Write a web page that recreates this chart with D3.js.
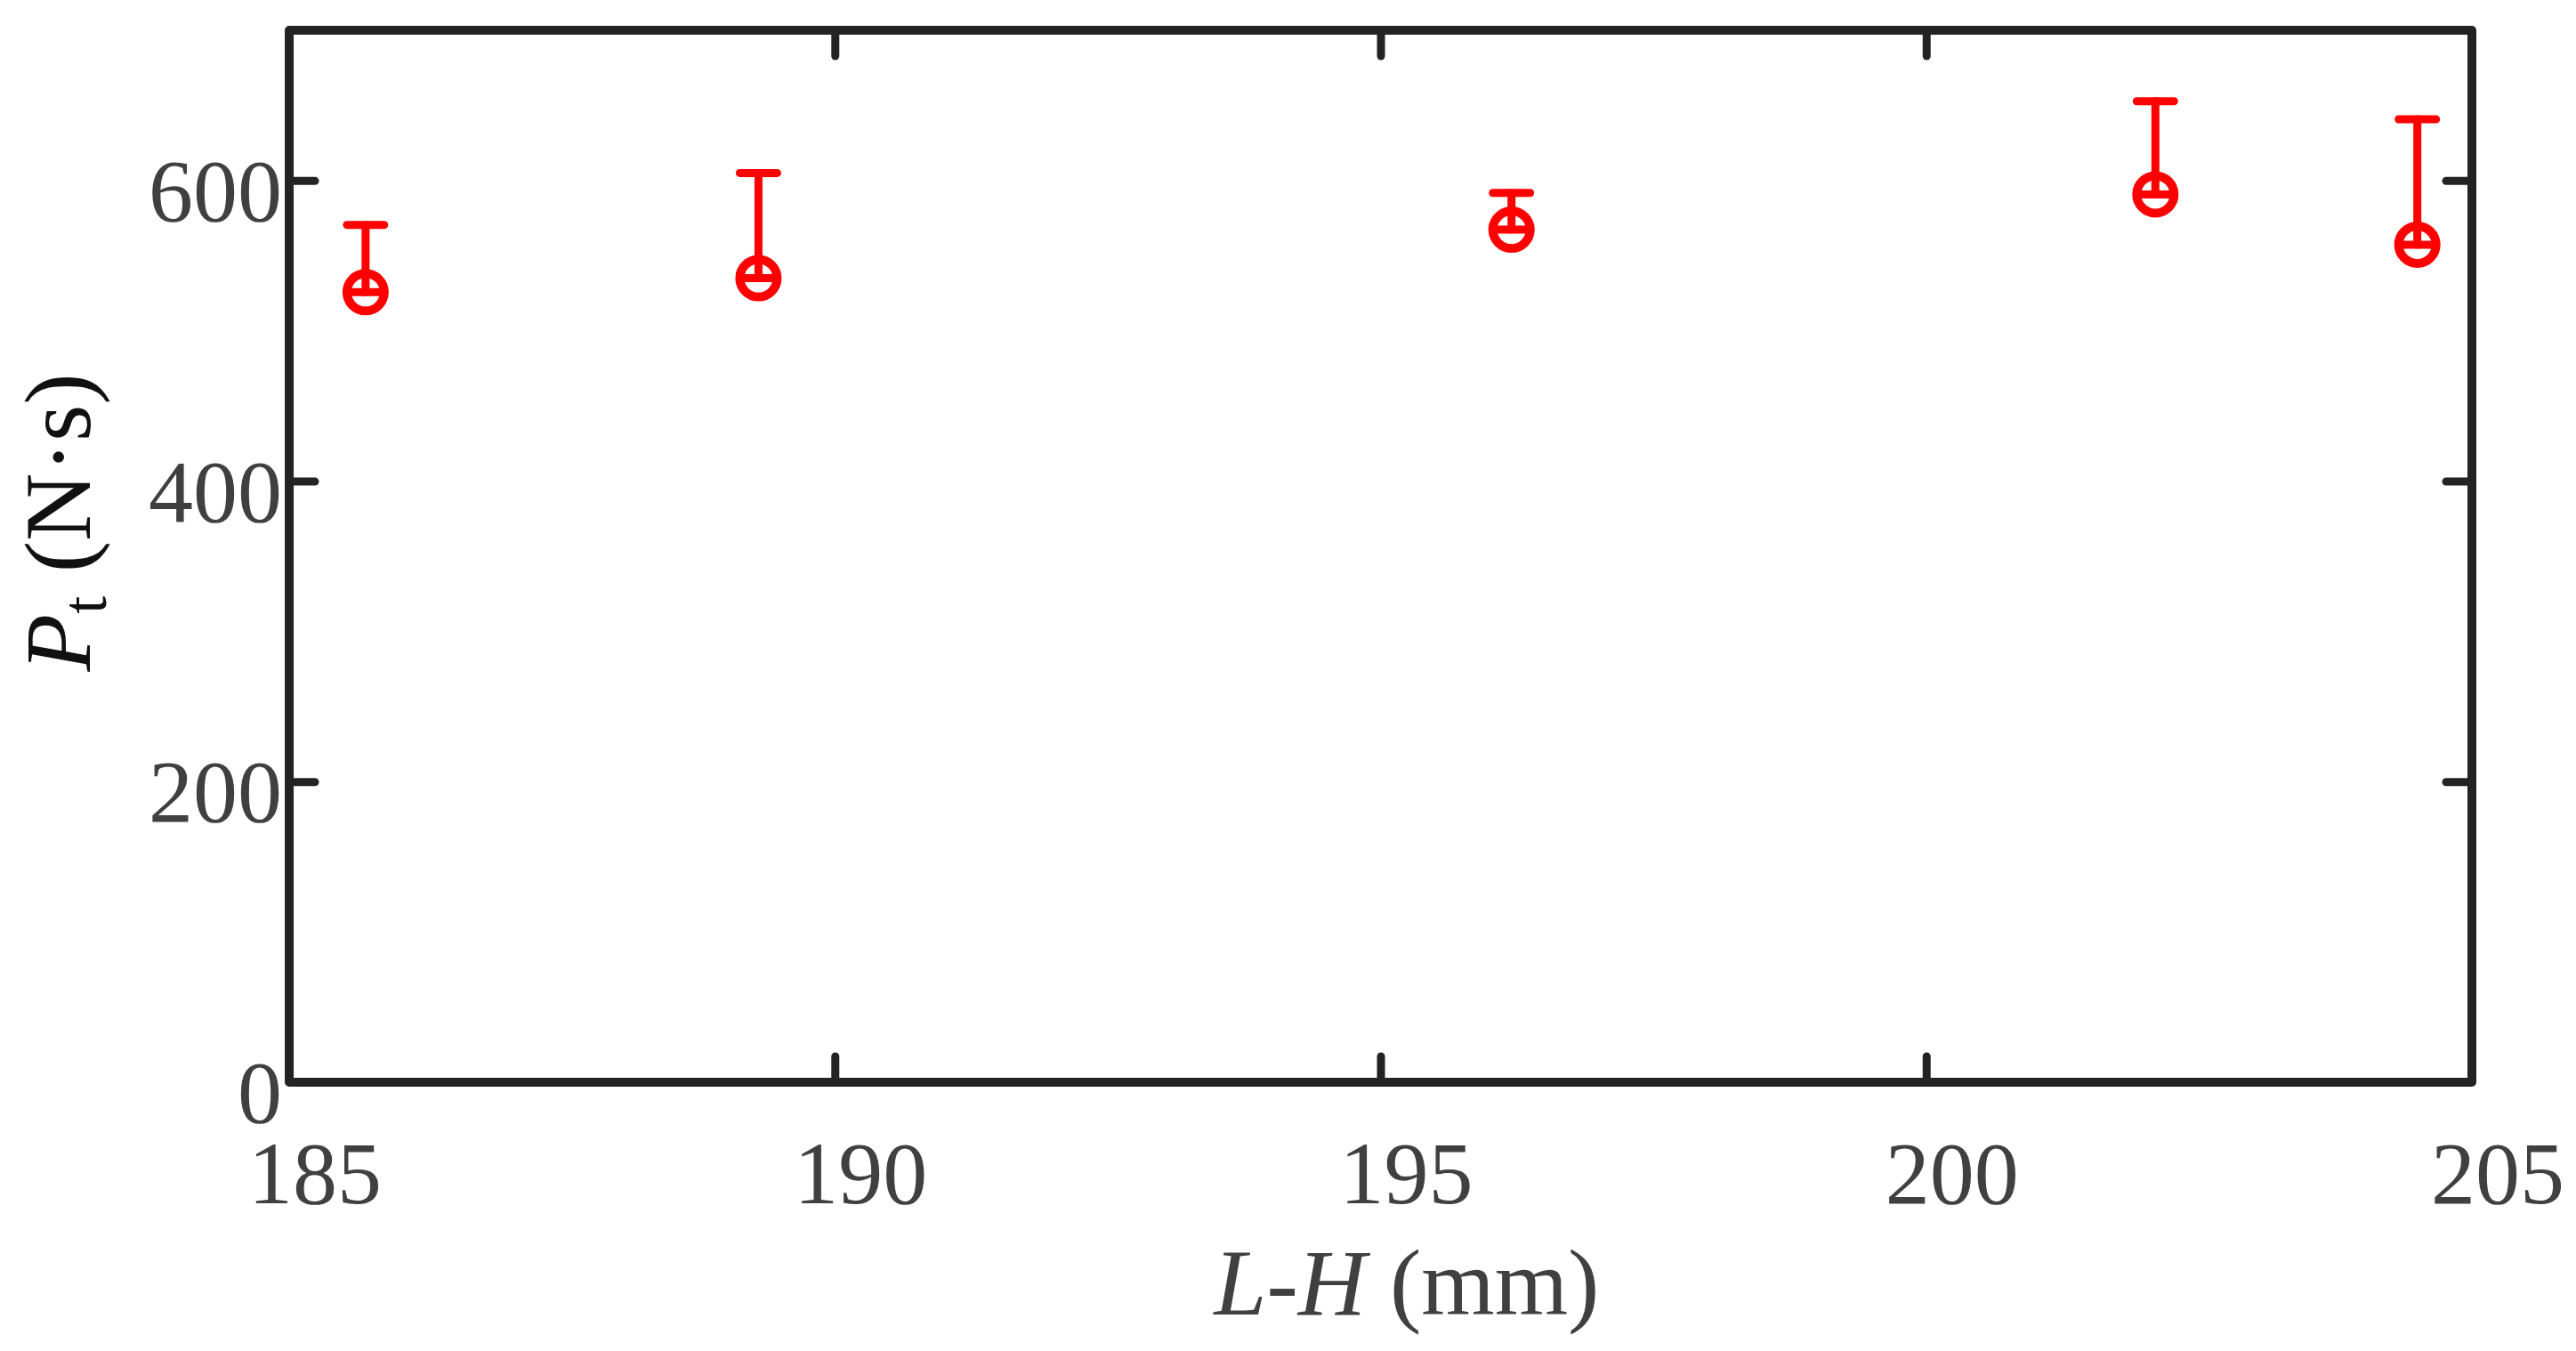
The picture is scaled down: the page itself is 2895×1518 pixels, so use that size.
<!DOCTYPE html>
<html>
<head>
<meta charset="utf-8">
<script src="https://cdn.jsdelivr.net/npm/d3@7"></script>
<style>
  html, body { margin: 0; padding: 0; background: #fff; }
  svg { display: block; }
</style>
</head>
<body>
<svg id="chart" width="2895" height="1518"></svg>
<script>
// ---- data ----
const xValues = [185.7, 189.3, 196.2, 202.1, 204.5];      // L-H (mm)
const yValues = [525.7, 535.0, 567.3, 590.8, 557.3];      // Pt (N·s)
const upperErr = [44.8, 70.0, 24.5, 62.0, 83.5];          // upper error
const lowerErr = [0, 0, 0, 0, 0];                         // lower error
const xTicks = [185, 190, 195, 200, 205];
const yTicks = [0, 200, 400, 600];
const xDomain = [185, 205];
const yDomain = [0, 700];

(function () {
// ---- layout ----
const W = 2895, H = 1518;
const mLeft = 325, mRight = 2778, mTop = 34, mBottom = 1216;
const frameColor = "#232323";
const textColor = "#404040";
const font = "'Liberation Serif', 'Times New Roman', serif";

const svg = d3.select("#chart");
svg.append("rect").attr("width", W).attr("height", H).attr("fill", "#fff");

const x = d3.scaleLinear().domain(xDomain).range([mLeft, mRight]);
const y = d3.scaleLinear().domain(yDomain).range([mBottom, mTop]);

const tickLen = 29;

function styleAxis(g) {
  g.select(".domain").remove();
  g.selectAll(".tick line")
    .attr("stroke", frameColor)
    .attr("stroke-width", 9)
    .attr("stroke-linecap", "round");
  g.selectAll(".tick text").remove();
}
const innerX = xTicks.filter(t => t !== xDomain[0] && t !== xDomain[1]);
const innerY = yTicks.filter(t => t !== yDomain[0] && t !== yDomain[1]);

svg.append("g").attr("transform", `translate(0,${mBottom})`)
  .call(d3.axisTop(x).tickValues(innerX).tickSize(tickLen)).call(styleAxis);
svg.append("g").attr("transform", `translate(0,${mTop})`)
  .call(d3.axisBottom(x).tickValues(innerX).tickSize(tickLen)).call(styleAxis);
svg.append("g").attr("transform", `translate(${mLeft},0)`)
  .call(d3.axisRight(y).tickValues(innerY).tickSize(tickLen)).call(styleAxis);
svg.append("g").attr("transform", `translate(${mRight},0)`)
  .call(d3.axisLeft(y).tickValues(innerY).tickSize(tickLen)).call(styleAxis);

// frame
svg.append("rect")
  .attr("x", x(xDomain[0])).attr("y", y(yDomain[1]))
  .attr("width", x(xDomain[1]) - x(xDomain[0]))
  .attr("height", y(yDomain[0]) - y(yDomain[1]))
  .attr("fill", "none")
  .attr("stroke", frameColor)
  .attr("stroke-width", 10)
  .attr("stroke-linejoin", "round");

// tick labels
svg.append("g").selectAll("text").data(xTicks).join("text")
  .attr("x", d => x(d) + 29)
  .attr("y", 1352)
  .attr("text-anchor", "middle")
  .attr("font-family", font)
  .attr("font-size", 100)
  .attr("fill", textColor)
  .text(d => d);

svg.append("g").selectAll("text").data(yTicks).join("text")
  .attr("x", 317)
  .attr("y", d => y(d) + 45)
  .attr("text-anchor", "end")
  .attr("font-family", font)
  .attr("font-size", 100)
  .attr("fill", textColor)
  .text(d => d);

// axis labels
const xl = svg.append("text")
  .attr("x", 1581).attr("y", 1477)
  .attr("text-anchor", "middle")
  .attr("font-family", font)
  .attr("font-size", 106)
  .attr("fill", textColor);
xl.append("tspan").attr("font-style", "italic").text("L-H");
xl.append("tspan").text(" (mm)");

const yl = svg.append("text")
  .attr("transform", "translate(101,587) rotate(-90)")
  .attr("text-anchor", "middle")
  .attr("font-family", font)
  .attr("font-size", 106)
  .attr("fill", "#111");
yl.append("tspan").attr("font-style", "italic").text("P");
yl.append("tspan").attr("font-size", 72).attr("dy", 18).text("t");
yl.append("tspan").attr("dy", -18).text(" (N·s)");

// error bars + markers
const red = "#ff0000";
const capHalf = 21;
const data = xValues.map((d, i) => ({x: d, y: yValues[i], up: upperErr[i], lo: lowerErr[i]}));
const g = svg.append("g")
  .attr("stroke", red).attr("fill", "none")
  .attr("stroke-width", 9).attr("stroke-linecap", "round");

g.selectAll("line.v").data(data).join("line").attr("class", "v")
  .attr("x1", d => x(d.x)).attr("x2", d => x(d.x))
  .attr("y1", d => y(d.y - d.lo)).attr("y2", d => y(d.y + d.up));
g.selectAll("line.cu").data(data).join("line").attr("class", "cu")
  .attr("x1", d => x(d.x) - capHalf).attr("x2", d => x(d.x) + capHalf)
  .attr("y1", d => y(d.y + d.up)).attr("y2", d => y(d.y + d.up));
g.selectAll("line.cl").data(data).join("line").attr("class", "cl")
  .attr("x1", d => x(d.x) - capHalf).attr("x2", d => x(d.x) + capHalf)
  .attr("y1", d => y(d.y - d.lo)).attr("y2", d => y(d.y - d.lo));
g.selectAll("circle").data(data).join("circle")
  .attr("cx", d => x(d.x)).attr("cy", d => y(d.y))
  .attr("r", 21).attr("stroke-width", 10);
})();
</script>
</body>
</html>
